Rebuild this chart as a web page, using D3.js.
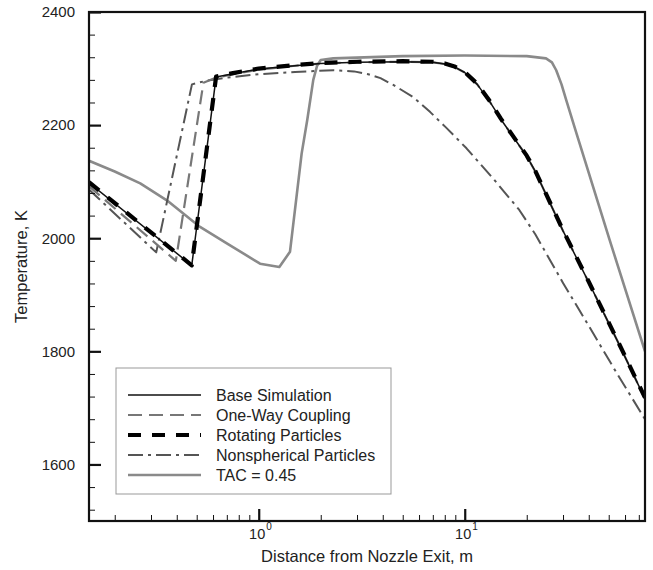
<!DOCTYPE html>
<html>
<head>
<meta charset="utf-8">
<script src="https://cdn.jsdelivr.net/npm/d3@7"></script>
<style>
  html, body { margin: 0; padding: 0; background: #fff; }
  svg { display: block; font-family: Arial, "Liberation Sans", sans-serif; }
</style>
</head>
<body>
<svg id="chart" width="653" height="570"></svg>
<script>
// ---------- data ----------
const baseX = [0.15, 0.473, 0.621, 0.75, 1.0, 1.5, 2.0, 3.0, 5.0, 7.0, 8.0, 9.0, 10, 11.5, 13.2, 15, 17.2, 20, 22, 30, 40, 55, 75];
const baseT = [2098, 1952, 2285, 2291, 2299, 2305, 2309, 2311, 2312, 2311, 2308, 2302, 2293, 2272, 2242, 2210, 2179, 2145, 2118, 2013, 1922, 1819, 1716];

const oneWayX = [0.15, 0.396, 0.539, 0.62, 0.75, 1.0, 1.5, 2.0, 3.0, 5.0, 7.0, 8.0, 9.0, 10, 11.5, 13.2, 15, 17.2, 20, 22, 30, 40, 55, 75];
const oneWayT = [2092, 1960, 2275, 2284, 2290, 2298, 2305, 2309, 2311, 2312, 2311, 2308, 2302, 2293, 2272, 2242, 2210, 2179, 2145, 2118, 2013, 1922, 1819, 1716];

const rotX = [0.15, 0.473, 0.621, 0.75, 1.0, 1.5, 2.0, 3.0, 5.0, 7.0, 8.0, 9.0, 10, 11.5, 13.2, 15, 17.2, 20, 22, 30, 40, 55, 75];
const rotT = [2099, 1952, 2286, 2292, 2300, 2306, 2310, 2312, 2313, 2312, 2309, 2303, 2294, 2273, 2243, 2211, 2180, 2146, 2119, 2014, 1923, 1820, 1718];

const nonsphX = [0.15, 0.318, 0.474, 0.55, 0.7, 1.0, 1.5, 2.3, 2.9, 3.4, 3.9, 4.5, 5.6, 6.8, 8.1, 10.2, 13.7, 18.4, 22, 30, 40, 55, 75];
const nonsphT = [2086, 1975, 2272, 2278, 2284, 2290, 2294, 2297, 2295, 2290, 2283, 2271, 2250, 2223, 2196, 2159, 2106, 2050, 2007, 1921, 1845, 1760, 1680];

const tacX = [0.15, 0.2, 0.266, 0.358, 0.519, 0.7, 1.015, 1.259, 1.418, 1.616, 1.72, 1.84, 1.92, 2.0, 2.3, 5, 10, 20, 24.8, 26.5, 27.8, 29.5, 31.1, 34.9, 50.5, 75];
const tacT = [2137, 2118, 2097, 2067, 2020, 1991, 1955, 1949, 1976, 2150, 2209, 2280, 2305, 2315, 2318, 2322, 2323, 2322, 2318, 2311, 2297, 2272, 2244, 2185, 1997, 1800];

const seriesNames = ["Base Simulation", "One-Way Coupling", "Rotating Particles", "Nonspherical Particles", "TAC = 0.45"];

const yMajorTicks = [1600, 1800, 2000, 2200, 2400];
const yMinorTicks = [1520, 1560, 1640, 1680, 1720, 1760, 1840, 1880, 1920, 1960, 2040, 2080, 2120, 2160, 2240, 2280, 2320, 2360];
const xMajorTicks = [1, 10];
const xMajorExp = ["0", "1"];
const xMinorTicks = [0.2, 0.3, 0.4, 0.5, 0.6, 0.7, 0.8, 0.9, 2, 3, 4, 5, 6, 7, 8, 9, 20, 30, 40, 50, 60, 70];

// ---------- layout ----------
const svg = d3.select("#chart");
const L = 89, R = 645, T = 12, B = 521;

const x = d3.scaleLog().domain([0.15, 75]).range([L, R]);
const y = d3.scaleLinear().domain([1500, 2400]).range([B, T]);

const styles = [
  { color: "#111", width: 1.5, dash: null },
  { color: "#777", width: 2.2, dash: "14,7" },
  { color: "#000", width: 4.2, dash: "13,11" },
  { color: "#555", width: 2.0, dash: "15,5,3,5" },
  { color: "#8a8a8a", width: 2.6, dash: null }
];
const series = [
  { x: baseX, t: baseT },
  { x: oneWayX, t: oneWayT },
  { x: rotX, t: rotT },
  { x: nonsphX, t: nonsphT },
  { x: tacX, t: tacT }
];

svg.append("defs").append("clipPath").attr("id", "clip")
  .append("rect").attr("x", L).attr("y", T).attr("width", R - L).attr("height", B - T);

const line = d3.line().x(d => x(d[0])).y(d => y(d[1]));

const order = [4, 3, 1, 0, 2];
const g = svg.append("g").attr("clip-path", "url(#clip)");
order.forEach(i => {
  const pts = series[i].x.map((v, k) => [v, series[i].t[k]]);
  g.append("path")
    .attr("d", line(pts))
    .attr("fill", "none")
    .attr("stroke", styles[i].color)
    .attr("stroke-width", styles[i].width)
    .attr("stroke-dasharray", styles[i].dash)
    .attr("stroke-linejoin", "round");
});

// ---------- axes ----------
const axX = svg.append("g").attr("transform", `translate(0,${B})`)
  .call(d3.axisBottom(x).tickValues(xMajorTicks).tickSize(-12).tickFormat(""));
const axXm = svg.append("g").attr("transform", `translate(0,${B})`)
  .call(d3.axisBottom(x).tickValues(xMinorTicks).tickSize(-6).tickFormat(""));
const axY = svg.append("g").attr("transform", `translate(${L},0)`)
  .call(d3.axisLeft(y).tickValues(yMajorTicks).tickSizeInner(-12).tickSizeOuter(0).tickPadding(14).tickFormat(d3.format("d")));
const axYm = svg.append("g").attr("transform", `translate(${L},0)`)
  .call(d3.axisLeft(y).tickValues(yMinorTicks).tickSizeInner(-6).tickSizeOuter(0).tickFormat(""));

[axX, axXm, axY, axYm].forEach(a => {
  a.select(".domain").remove();
  a.selectAll(".tick line").attr("stroke", "#111").attr("stroke-width", 1);
});
axX.selectAll(".tick line").attr("stroke-width", 2.2);
axY.selectAll(".tick line").attr("stroke-width", 2.2);
axY.selectAll(".tick text").attr("font-size", 15).attr("fill", "#222")
  .attr("font-family", "Arial, 'Liberation Sans', sans-serif");

// x major labels 10^n
xMajorTicks.forEach((v, i) => {
  const px = x(v);
  svg.append("text").attr("x", px + 6.5).attr("y", 539).attr("text-anchor", "end")
    .attr("font-size", 14.5).attr("fill", "#222").text("10");
  svg.append("text").attr("x", px + 7.5).attr("y", 530).attr("font-size", 10).attr("fill", "#222").text(xMajorExp[i]);
});

// frame
svg.append("rect").attr("x", L).attr("y", T).attr("width", R - L).attr("height", B - T)
  .attr("fill", "none").attr("stroke", "#111").attr("stroke-width", 2.2);

// titles
svg.append("text").attr("x", (L + R) / 2).attr("y", 562).attr("text-anchor", "middle")
  .attr("font-size", 16.5).attr("fill", "#222").text("Distance from Nozzle Exit, m");
svg.append("text").attr("transform", `translate(27,${(T + B) / 2}) rotate(-90)`)
  .attr("text-anchor", "middle").attr("font-size", 16.5).attr("fill", "#222").text("Temperature, K");

// ---------- legend ----------
const lg = svg.append("g");
lg.append("rect").attr("x", 116).attr("y", 368).attr("width", 275).attr("height", 126)
  .attr("fill", "#fff").attr("stroke", "#999").attr("stroke-width", 1);
seriesNames.forEach((name, i) => {
  const yy = 395 + i * 20;
  lg.append("line").attr("x1", 128).attr("x2", 201).attr("y1", yy).attr("y2", yy)
    .attr("stroke", styles[i].color).attr("stroke-width", styles[i].width)
    .attr("stroke-dasharray", styles[i].dash);
  lg.append("text").attr("x", 216).attr("y", yy).attr("dy", "0.36em")
    .attr("font-size", 16).attr("fill", "#222").text(name);
});
</script>
</body>
</html>
